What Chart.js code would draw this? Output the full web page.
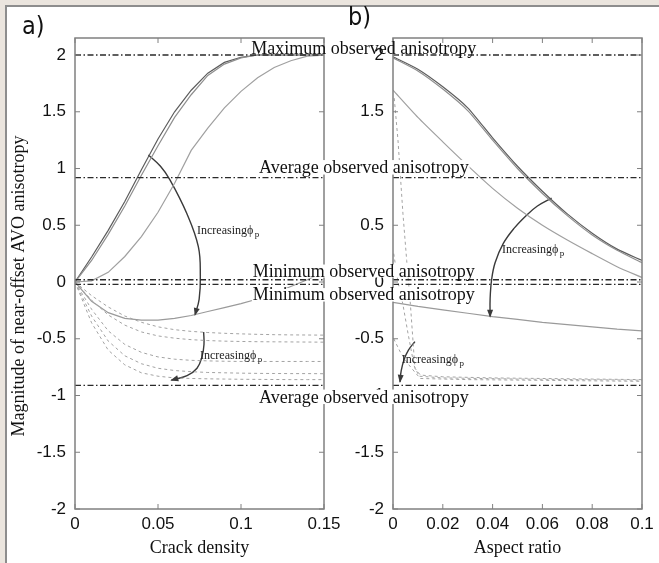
<!DOCTYPE html>
<html>
<head>
<meta charset="utf-8">
<script src="https://cdn.jsdelivr.net/npm/chart.js@4.4.1/dist/chart.umd.min.js"></script>
<style>
html, body { margin: 0; padding: 0; }
body { width: 659px; height: 563px; background: #ebe5de; position: relative; overflow: hidden; }
#frame { position: absolute; left: 5px; top: 5px; width: 680px; height: 600px; background: #fff;
  border-left: 2px solid #8d8d8d; border-top: 2px solid #8d8d8d; }
canvas { position: absolute; left: 0; top: 0; }
#cb { z-index: 1; }
#ca { z-index: 2; }
.lab { position: absolute; z-index: 3; font-family: 'Liberation Sans Narrow', 'DejaVu Sans Condensed', sans-serif; font-size: 25px; color: #111; }
</style>
</head>
<body>
<div id="frame"></div>
<canvas id="cb" width="659" height="563"></canvas>
<canvas id="ca" width="659" height="563"></canvas>
<div class="lab" style="left:22px;top:11px">a)</div>
<div class="lab" style="left:348px;top:2px">b)</div>
<script>
// Valeurs
const yTicks = [-2, -1.5, -1, -0.5, 0, 0.5, 1, 1.5, 2];
const crackTicks = [0, 0.05, 0.1, 0.15];
const aspectTicks = [0, 0.02, 0.04, 0.06, 0.08, 0.1];

// a) crack density
const crackX = [0, 0.01, 0.02, 0.03, 0.04, 0.05, 0.06, 0.07, 0.08, 0.09, 0.1, 0.11, 0.12, 0.13, 0.14, 0.15];
const crackUp1 = [0, 0.22, 0.455, 0.71, 0.99, 1.26, 1.5, 1.69, 1.84, 1.935, 1.98, 2, 2, 2, 2, 2];
const crackUp2 = [0, 0.19, 0.42, 0.67, 0.94, 1.2, 1.45, 1.65, 1.82, 1.92, 1.975, 2, 2, 2, 2, 2];
const crackUp3 = [0, 0.01, 0.085, 0.225, 0.4, 0.615, 0.87, 1.16, 1.355, 1.535, 1.68, 1.8, 1.89, 1.95, 1.99, 2];
const crackMin = [0, -0.17, -0.27, -0.32, -0.335, -0.335, -0.32, -0.295, -0.26, -0.225, -0.19, -0.15, -0.1, -0.04, 0.02, 0.09];
const crackDash1 = [0, -0.12, -0.22, -0.3, -0.355, -0.395, -0.42, -0.435, -0.445, -0.452, -0.457, -0.461, -0.464, -0.466, -0.467, -0.468];
const crackDash2 = [0, -0.16, -0.29, -0.38, -0.44, -0.475, -0.495, -0.508, -0.516, -0.521, -0.524, -0.526, -0.527, -0.528, -0.529, -0.53];
const crackDash3 = [0, -0.24, -0.43, -0.55, -0.62, -0.66, -0.68, -0.69, -0.695, -0.698, -0.7, -0.7, -0.7, -0.7, -0.7, -0.7];
const crackDash4 = [0, -0.3, -0.52, -0.65, -0.72, -0.76, -0.78, -0.79, -0.797, -0.8, -0.803, -0.805, -0.806, -0.807, -0.807, -0.808];
const crackDash5 = [0, -0.36, -0.6, -0.73, -0.8, -0.83, -0.845, -0.85, -0.853, -0.855, -0.857, -0.858, -0.859, -0.86, -0.86, -0.86];

// b) aspect ratio
const aspectX = [0, 0.01, 0.02, 0.03, 0.04, 0.05, 0.06, 0.07, 0.08, 0.09, 0.1];
const aspectUp1 = [1.985, 1.875, 1.72, 1.535, 1.27, 1.02, 0.8, 0.6, 0.43, 0.29, 0.19];
const aspectUp2 = [1.975, 1.86, 1.7, 1.51, 1.25, 1.0, 0.78, 0.585, 0.415, 0.28, 0.17];
const aspectUp3 = [1.69, 1.45, 1.235, 1.025, 0.825, 0.65, 0.5, 0.37, 0.25, 0.135, 0.04];
const aspectMin = [-0.18, -0.215, -0.245, -0.275, -0.305, -0.33, -0.355, -0.375, -0.395, -0.415, -0.43];
const aspectDash1X = [0.0005, 0.002, 0.004, 0.0055, 0.007, 0.0088, 0.011, 0.02, 0.04, 0.06, 0.08, 0.1];
const aspectDash1 = [1.62, 1.25, 0.6, 0.19, -0.2, -0.76, -0.82, -0.835, -0.845, -0.85, -0.855, -0.86];
const aspectDash2X = [0.0003, 0.002, 0.004, 0.006, 0.0085, 0.0105, 0.02, 0.05, 0.1];
const aspectDash2 = [0.25, 0, -0.2, -0.45, -0.74, -0.83, -0.845, -0.855, -0.865];
const aspectDash3X = [0.0003, 0.003, 0.006, 0.009, 0.011, 0.03, 0.1];
const aspectDash3 = [-0.5, -0.62, -0.72, -0.8, -0.85, -0.86, -0.875];

// niveaux observes (max, moyen, min, -min, -moyen)
const levels = [2, 0.92, 0.02, -0.02, -0.91];

// fleches "Increasing phi_p"
const arcA1X = [0.0442, 0.0515, 0.0572, 0.0673, 0.0743, 0.0755, 0.0748, 0.0723];
const arcA1Y = [1.12, 1.02, 0.9, 0.605, 0.311, 0.05, -0.15, -0.29];
const arcA2X = [0.0775, 0.0777, 0.0765, 0.0735, 0.0675, 0.058];
const arcA2Y = [-0.44, -0.55, -0.66, -0.76, -0.825, -0.865];
const arcB1X = [0.0637, 0.058, 0.0537, 0.0485, 0.0443, 0.041, 0.0396, 0.039, 0.039];
const arcB1Y = [0.74, 0.67, 0.59, 0.47, 0.34, 0.17, 0.02, -0.15, -0.305];
const arcB2X = [0.0088, 0.0062, 0.0045, 0.0033, 0.0028];
const arcB2Y = [-0.525, -0.6, -0.68, -0.78, -0.88];

const serif = "'Liberation Serif', 'Times New Roman', serif";
const sans = "'Liberation Sans', Arial, sans-serif";

function serie(xs, ys, color, width, dash, tension) {
  return {
    data: xs.map((x, i) => ({x: x, y: ys[i]})),
    borderColor: color, borderWidth: width, borderDash: dash || [],
    pointRadius: 0, fill: false, tension: tension || 0
  };
}

function levelLines(x0, x1) {
  return levels.map(v => serie([x0, x1], [v, v], '#2a2a2a', 1.3, [6, 2.5, 1.5, 2.5]));
}

function arrow(xs, ys) {
  const d = serie(xs, ys, '#3a3a3a', 1.4, [], 0.4);
  d.arrow = true;
  return d;
}

function increasing(ctx, px, py) {
  ctx.fillStyle = '#222';
  ctx.textAlign = 'left';
  ctx.textBaseline = 'alphabetic';
  ctx.font = '12px ' + serif;
  const t = 'Increasing\u03d5';
  ctx.fillText(t, px, py);
  const w = ctx.measureText(t).width;
  ctx.font = '9px ' + serif;
  ctx.fillText('p', px + w + 1.5, py + 3);
}

function makeAnnot(cfg) {
  return {
    id: 'annot',
    afterDraw(chart) {
      const {ctx, chartArea: a, scales: {x, y}} = chart;
      ctx.save();
      // cadre et graduations vers l'interieur
      ctx.strokeStyle = '#808080';
      ctx.lineWidth = 1.5;
      ctx.setLineDash([]);
      ctx.strokeRect(a.left, a.top, a.width, a.height);
      ctx.lineWidth = 1;
      ctx.beginPath();
      x.ticks.forEach(t => {
        const p = x.getPixelForValue(t.value);
        ctx.moveTo(p, a.bottom); ctx.lineTo(p, a.bottom - 5);
        ctx.moveTo(p, a.top); ctx.lineTo(p, a.top + 5);
      });
      y.ticks.forEach(t => {
        const p = y.getPixelForValue(t.value);
        ctx.moveTo(a.left, p); ctx.lineTo(a.left + 5, p);
        ctx.moveTo(a.right, p); ctx.lineTo(a.right - 5, p);
      });
      ctx.stroke();

      // pointes de fleches
      chart.data.datasets.forEach((ds, i) => {
        if (!ds.arrow) return;
        const pts = chart.getDatasetMeta(i).data;
        const p1 = pts[pts.length - 2], p2 = pts[pts.length - 1];
        const ang = Math.atan2(p2.y - p1.y, p2.x - p1.x);
        ctx.save();
        ctx.translate(p2.x, p2.y);
        ctx.rotate(ang);
        ctx.fillStyle = ds.borderColor;
        ctx.beginPath();
        ctx.moveTo(1, 0); ctx.lineTo(-7, -3); ctx.lineTo(-7, 3);
        ctx.closePath();
        ctx.fill();
        ctx.restore();
      });

      cfg.incr.forEach(l => increasing(ctx, x.getPixelForValue(l[0]), y.getPixelForValue(l[1])));

      // titre axe x
      ctx.fillStyle = '#111';
      ctx.font = '18px ' + serif;
      ctx.textAlign = 'center';
      ctx.textBaseline = 'alphabetic';
      ctx.fillText(cfg.titleX, (a.left + a.right) / 2, 553);

      if (cfg.titleY) {
        ctx.save();
        ctx.translate(24, 286);
        ctx.rotate(-Math.PI / 2);
        ctx.fillText(cfg.titleY, 0, 0);
        ctx.restore();
      }

      // textes des niveaux observes (fond blanc : [haut, bas] autour de la ligne de base)
      if (cfg.levelText) {
        ctx.font = '18px ' + serif;
        cfg.levelText.forEach(l => {
          const px = x.getPixelForValue(cfg.levelX);
          const py = y.getPixelForValue(l[1]);
          const w = ctx.measureText(l[0]).width;
          if (l[2]) {
            ctx.fillStyle = '#fff';
            ctx.fillRect(px - w / 2 - 1, py - l[2][0], w + 2, l[2][0] + l[2][1]);
          }
          ctx.fillStyle = '#111';
          ctx.textAlign = 'center';
          ctx.fillText(l[0], px, py);
        });
      }
      ctx.restore();
    }
  };
}

function makeChart(id, xMax, xTicks, pad, yWidth, datasets, cfg) {
  return new Chart(document.getElementById(id), {
    type: 'line',
    data: { datasets: datasets },
    options: {
      responsive: false,
      animation: false,
      events: [],
      layout: { padding: pad },
      plugins: { legend: { display: false }, tooltip: { enabled: false } },
      scales: {
        x: {
          type: 'linear', min: 0, max: xMax,
          grid: { display: false, drawTicks: false },
          border: { display: false },
          afterBuildTicks: s => { s.ticks = xTicks.map(v => ({value: v})); },
          afterFit: s => { s.height = 54; s.paddingLeft = 0; s.paddingRight = 0; },
          ticks: { autoSkip: false, maxRotation: 0, padding: 5, color: '#111',
                   font: { family: sans, size: 17 }, callback: v => String(v) }
        },
        y: {
          type: 'linear', min: -2, max: 2.15,
          grid: { display: false, drawTicks: false },
          border: { display: false },
          afterBuildTicks: s => { s.ticks = yTicks.map(v => ({value: v})); },
          afterFit: s => { s.width = yWidth; s.paddingTop = 0; s.paddingBottom = 0; },
          ticks: { autoSkip: false, padding: 9, color: '#111',
                   font: { family: sans, size: 17 }, callback: v => String(v) }
        }
      }
    },
    plugins: [makeAnnot(cfg)]
  });
}

const dashGrey = '#a3a3a3';

makeChart('cb', 0.1, aspectTicks, {left: 348, right: 17, top: 38, bottom: 0}, 45, [
  ...levelLines(0, 0.1),
  serie(aspectDash3X, aspectDash3, dashGrey, 1, [3, 3]),
  serie(aspectDash2X, aspectDash2, dashGrey, 1, [3, 3]),
  serie(aspectDash1X, aspectDash1, dashGrey, 1, [3, 3]),
  serie(aspectX, aspectMin, '#9a9a9a', 1.2),
  serie(aspectX, aspectUp3, '#a0a0a0', 1.2, [], 0.2),
  serie(aspectX, aspectUp2, '#8e8e8e', 1.2, [], 0.2),
  serie(aspectX, aspectUp1, '#5c5c5c', 1.2, [], 0.2),
  arrow(arcB1X, arcB1Y),
  arrow(arcB2X, arcB2Y)
], {
  titleX: 'Aspect ratio',
  incr: [[0.0438, 0.255], [0.0035, -0.714]]
});

makeChart('ca', 0.15, crackTicks, {left: 0, right: 335, top: 38, bottom: 0}, 75, [
  ...levelLines(0, 0.15),
  serie(crackX, crackDash5, dashGrey, 1, [3, 3]),
  serie(crackX, crackDash4, dashGrey, 1, [3, 3]),
  serie(crackX, crackDash3, dashGrey, 1, [3, 3]),
  serie(crackX, crackDash2, dashGrey, 1, [3, 3]),
  serie(crackX, crackDash1, dashGrey, 1, [3, 3]),
  serie(crackX, crackMin, '#9a9a9a', 1.2),
  serie(crackX, crackUp3, '#a0a0a0', 1.2),
  serie(crackX, crackUp2, '#8e8e8e', 1.2),
  serie(crackX, crackUp1, '#5c5c5c', 1.2),
  arrow(arcA1X, arcA1Y),
  arrow(arcA2X, arcA2Y)
], {
  titleX: 'Crack density',
  titleY: 'Magnitude of near-offset AVO anisotropy',
  incr: [[0.0735, 0.423], [0.0753, -0.678]],
  levelX: 0.174,
  levelText: [
    ['Maximum observed anisotropy', 2.013, null],
    ['Average observed anisotropy', 0.96, [13, 1.5]],
    ['Minimum observed anisotropy', 0.044, [12.5, 0.5]],
    ['Minimum observed anisotropy', -0.159, [12, 1.5]],
    ['Average observed anisotropy', -1.062, [13, 1.5]]
  ]
});
</script>
</body>
</html>
